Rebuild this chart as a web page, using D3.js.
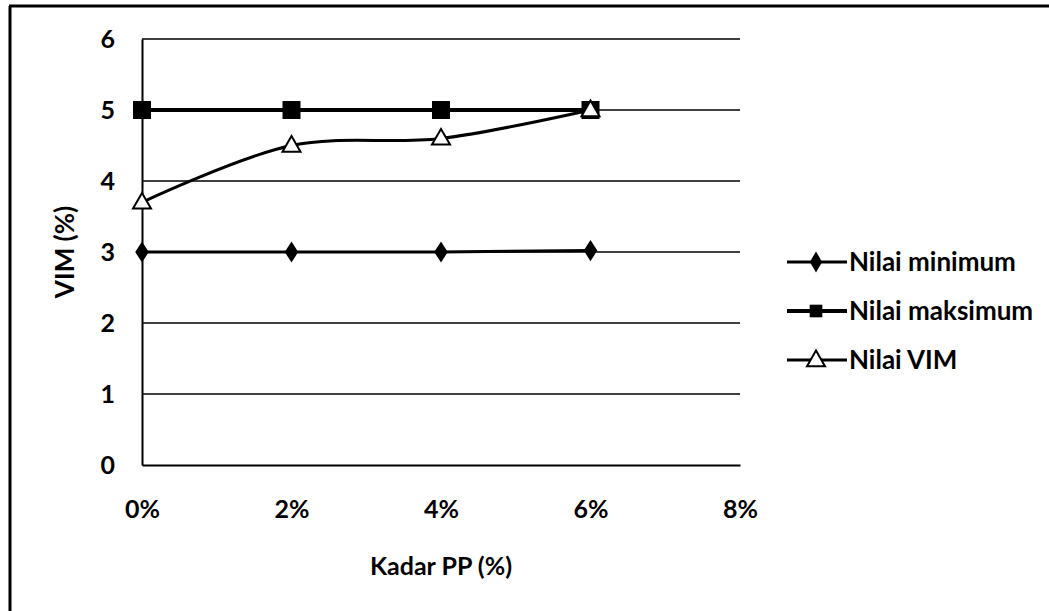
<!DOCTYPE html>
<html>
<head>
<meta charset="utf-8">
<script src="https://cdn.jsdelivr.net/npm/d3@7"></script>
<style>
  body { margin: 0; background: #fff; }
  svg { display: block; font-family: Lato, "Open Sans", sans-serif; }
</style>
</head>
<body>
<div id="chart"></div>
<script>
// data
const kadarPP = [0, 2, 4, 6];
const nilaiMinimum = [3, 3, 3, 3.02];
const nilaiMaksimum = [5, 5, 5, 5];
const nilaiVIM = [3.7, 4.5, 4.6, 5.0];
const xTicks = [0, 2, 4, 6, 8];
const yTicks = [0, 1, 2, 3, 4, 5, 6];
const seriesNames = ["Nilai minimum", "Nilai maksimum", "Nilai VIM"];

const width = 1049, height = 611;
const margin = {left: 142, right: 309, top: 39, bottom: 146};

const svg = d3.select('#chart').append('svg')
  .attr('width', width)
  .attr('height', height);

// outer frame (only top + left are visible in the scan)
svg.append('line').attr('x1', 9).attr('x2', width).attr('y1', 6).attr('y2', 6)
  .attr('stroke', '#000').attr('stroke-width', 3);
svg.append('line').attr('x1', 10).attr('x2', 10).attr('y1', 6).attr('y2', height)
  .attr('stroke', '#000').attr('stroke-width', 3);

const x = d3.scaleLinear().domain([0, 8]).range([margin.left, width - margin.right]);
const y = d3.scaleLinear().domain([0, 6]).range([height - margin.bottom, margin.top]);

// gridlines
svg.append('g')
  .selectAll('line')
  .data(yTicks.filter(d => d > 0))
  .join('line')
  .attr('x1', x(0)).attr('x2', x(8))
  .attr('y1', d => y(d)).attr('y2', d => y(d))
  .attr('stroke', '#000').attr('stroke-width', 1.5);

// axes
const yAxis = svg.append('g')
  .attr('transform', `translate(${x(0)},0)`)
  .call(d3.axisLeft(y).tickValues(yTicks).tickSize(0).tickPadding(27).tickFormat(d3.format('d')));
const xAxis = svg.append('g')
  .attr('transform', `translate(0,${y(0)})`)
  .call(d3.axisBottom(x).tickValues(xTicks).tickSize(0).tickPadding(35).tickFormat(d => d + '%'));

[yAxis, xAxis].forEach(a => {
  a.select('.domain').attr('stroke', '#000').attr('stroke-width', 2);
  a.selectAll('text').attr('font-size', 25).attr('font-weight', 'bold').attr('fill', '#000')
    .attr('font-family', 'Lato, sans-serif');
});

// axis titles
svg.append('text')
  .attr('x', (x(0) + x(8)) / 2).attr('y', 575)
  .attr('text-anchor', 'middle')
  .attr('font-size', 25).attr('font-weight', 'bold')
  .text('Kadar PP (%)');

svg.append('text')
  .attr('transform', `translate(74,${(y(0) + y(6)) / 2}) rotate(-90)`)
  .attr('text-anchor', 'middle')
  .attr('font-size', 26).attr('font-weight', 'bold')
  .text('VIM (%)');

// lines
const lineStraight = d3.line().x((d, i) => x(kadarPP[i])).y(d => y(d));
const lineSmooth = d3.line().x((d, i) => x(kadarPP[i])).y(d => y(d)).curve(d3.curveCatmullRom.alpha(0.5));

svg.append('path').datum(nilaiMinimum).attr('d', lineStraight)
  .attr('fill', 'none').attr('stroke', '#000').attr('stroke-width', 3);
svg.append('path').datum(nilaiMaksimum).attr('d', lineStraight)
  .attr('fill', 'none').attr('stroke', '#000').attr('stroke-width', 4);
svg.append('path').datum(nilaiVIM).attr('d', lineSmooth)
  .attr('fill', 'none').attr('stroke', '#000').attr('stroke-width', 3);

// markers
const diamond = d3.symbol().type(d3.symbolDiamond).size(130);
const square = d3.symbol().type(d3.symbolSquare).size(324);
const triangle = d3.symbol().type(d3.symbolTriangle).size(140);

svg.append('g').selectAll('path').data(nilaiMinimum).join('path')
  .attr('d', diamond)
  .attr('transform', (d, i) => `translate(${x(kadarPP[i])},${y(d)}) scale(1.1,1)`)
  .attr('fill', '#000');
svg.append('g').selectAll('path').data(nilaiMaksimum).join('path')
  .attr('d', square)
  .attr('transform', (d, i) => `translate(${x(kadarPP[i])},${y(d)})`)
  .attr('fill', '#000');
svg.append('g').selectAll('path').data(nilaiVIM).join('path')
  .attr('d', triangle)
  .attr('transform', (d, i) => `translate(${x(kadarPP[i])},${y(d) + 1})`)
  .attr('fill', '#fff').attr('stroke', '#000').attr('stroke-width', 2);

// legend
const legendRows = [
  {name: seriesNames[0], sym: diamond, fill: '#000', sw: 3, y: 262},
  {name: seriesNames[1], sym: d3.symbol().type(d3.symbolSquare).size(160), fill: '#000', sw: 4, y: 311},
  {name: seriesNames[2], sym: triangle, fill: '#fff', sw: 3, y: 360}
];
const leg = svg.append('g').selectAll('g').data(legendRows).join('g')
  .attr('transform', d => `translate(787,${d.y})`);
leg.append('line').attr('x1', 0).attr('x2', 60).attr('y1', 0).attr('y2', 0)
  .attr('stroke', '#000').attr('stroke-width', d => d.sw);
leg.append('path')
  .attr('d', d => d.sym())
  .attr('transform', (d, i) => `translate(29,${i === 2 ? 1 : 0})`)
  .attr('fill', d => d.fill)
  .attr('stroke', (d, i) => i === 2 ? '#000' : 'none').attr('stroke-width', 2);
leg.append('text')
  .attr('x', 62).attr('y', 0).attr('dy', '0.35em')
  .attr('font-size', 26).attr('font-weight', 'bold')
  .text(d => d.name);
</script>
</body>
</html>
